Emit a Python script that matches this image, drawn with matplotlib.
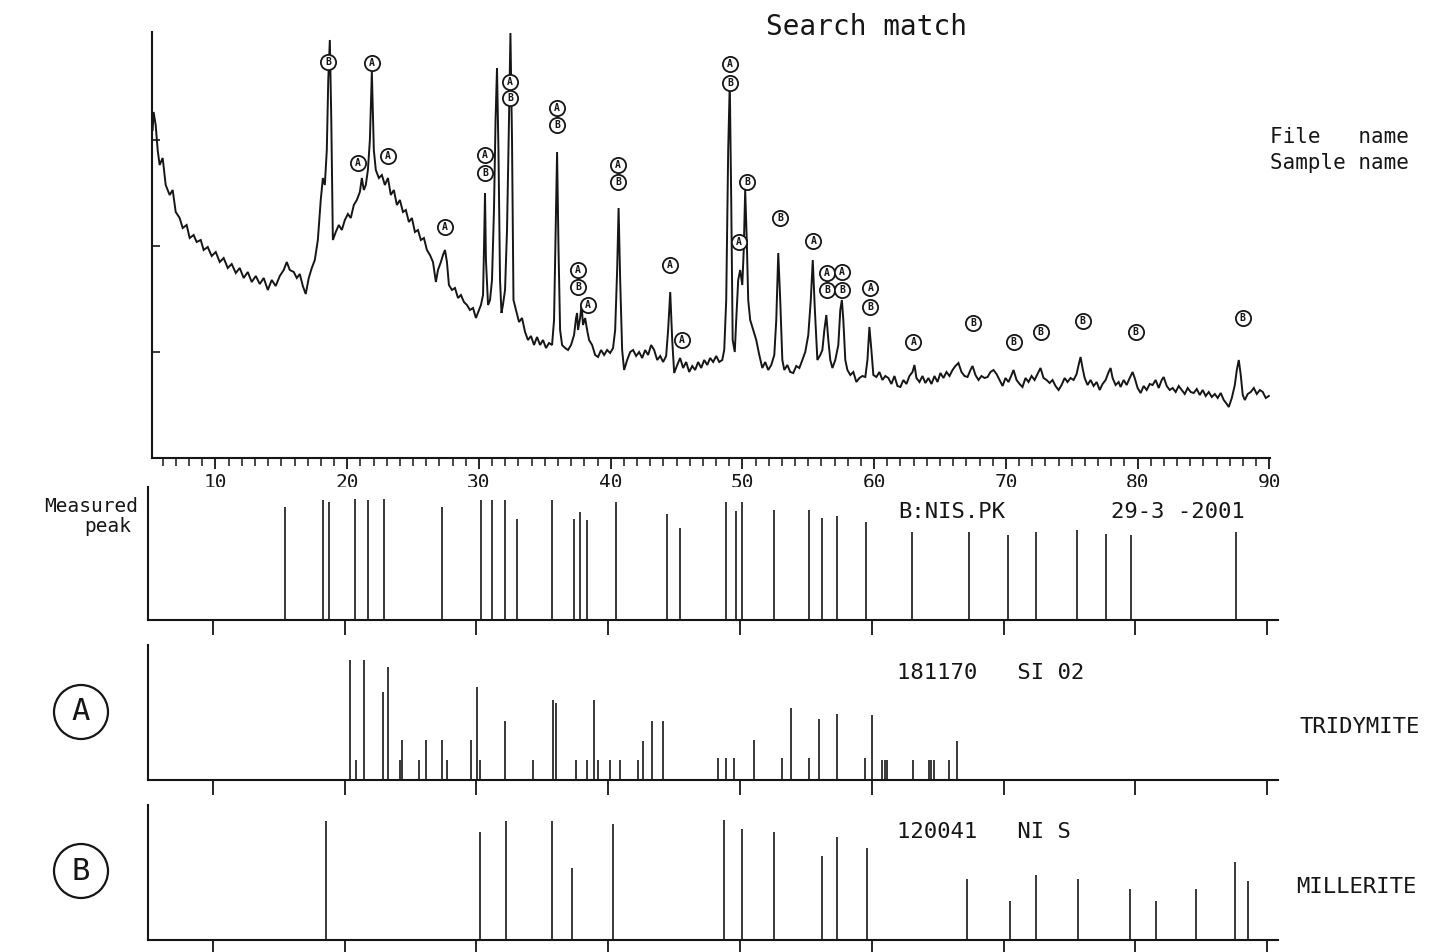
import numpy as np
import matplotlib.pyplot as plt
from matplotlib.ticker import MultipleLocator
from matplotlib.patches import Ellipse

plt.rcParams['font.family'] = ['DejaVu Sans Mono']
INK = '#161616'

# measured scan: 2-theta (deg) and counts
two_theta = [
    5.23, 5.30, 5.46, 5.61, 5.76, 5.99, 6.22, 6.52, 6.75, 6.98,
    7.28, 7.51, 7.81, 8.04, 8.34, 8.57, 8.88, 9.10, 9.41, 9.71,
    10.02, 10.32, 10.62, 10.93, 11.23, 11.54, 11.84, 12.14, 12.45, 12.75,
    13.06, 13.36, 13.66, 13.97, 14.27, 14.57, 14.88, 15.18, 15.41, 15.64,
    15.94, 16.17, 16.40, 16.63, 16.85, 17.08, 17.31, 17.54, 17.77, 17.99,
    18.15, 18.30, 18.45, 18.56, 18.68, 18.79, 18.91, 19.13, 19.36, 19.59,
    19.82, 20.05, 20.27, 20.50, 20.73, 20.96, 21.11, 21.26, 21.41, 21.57,
    21.72, 21.87, 22.02, 22.17, 22.40, 22.63, 22.86, 23.09, 23.31, 23.54,
    23.77, 24.00, 24.23, 24.45, 24.68, 24.91, 25.14, 25.37, 25.59, 25.82,
    26.05, 26.28, 26.51, 26.73, 26.89, 27.11, 27.27, 27.42, 27.57, 27.72,
    27.95, 28.18, 28.41, 28.63, 28.86, 29.09, 29.32, 29.55, 29.77, 30.00,
    30.15, 30.31, 30.38, 30.46, 30.53, 30.69, 30.84, 30.99, 31.14, 31.26,
    31.37, 31.48, 31.60, 31.71, 31.82, 31.98, 32.13, 32.28, 32.39, 32.51,
    32.62, 32.81, 33.04, 33.27, 33.50, 33.72, 33.95, 34.18, 34.41, 34.64,
    34.86, 35.09, 35.32, 35.55, 35.70, 35.81, 35.93, 36.04, 36.16, 36.31,
    36.54, 36.76, 36.99, 37.22, 37.37, 37.45, 37.52, 37.68, 37.79, 37.90,
    38.06, 38.21, 38.36, 38.59, 38.82, 39.04, 39.27, 39.50, 39.73, 39.96,
    40.18, 40.34, 40.49, 40.60, 40.72, 40.87, 41.02, 41.25, 41.48, 41.70,
    41.93, 42.16, 42.39, 42.62, 42.84, 43.07, 43.30, 43.53, 43.76, 43.98,
    44.21, 44.36, 44.52, 44.67, 44.82, 45.05, 45.27, 45.50, 45.73, 45.96,
    46.19, 46.41, 46.64, 46.87, 47.10, 47.33, 47.55, 47.78, 48.01, 48.24,
    48.47, 48.62, 48.77, 48.92, 49.04, 49.15, 49.26, 49.42, 49.53, 49.68,
    49.83, 49.99, 50.10, 50.21, 50.33, 50.44, 50.59, 50.82, 51.05, 51.28,
    51.51, 51.73, 51.96, 52.19, 52.42, 52.57, 52.72, 52.87, 53.03, 53.18,
    53.41, 53.63, 53.86, 54.09, 54.32, 54.55, 54.77, 55.00, 55.19, 55.34,
    55.50, 55.69, 55.91, 56.07, 56.22, 56.37, 56.52, 56.67, 56.83, 57.05,
    57.28, 57.43, 57.55, 57.66, 57.81, 57.97, 58.19, 58.42, 58.65, 58.88,
    59.11, 59.33, 59.49, 59.64, 59.79, 59.94, 60.17, 60.40, 60.63, 60.85,
    61.08, 61.31, 61.54, 61.77, 61.99, 62.22, 62.45, 62.68, 62.91, 63.06,
    63.21, 63.44, 63.67, 63.89, 64.12, 64.35, 64.58, 64.81, 65.03, 65.26,
    65.49, 65.72, 65.95, 66.17, 66.40, 66.63, 66.86, 67.09, 67.31, 67.47,
    67.69, 67.92, 68.15, 68.38, 68.61, 68.83, 69.06, 69.29, 69.52, 69.75,
    69.97, 70.20, 70.43, 70.58, 70.81, 71.04, 71.26, 71.49, 71.72, 71.95,
    72.18, 72.40, 72.63, 72.86, 73.09, 73.32, 73.54, 73.77, 74.00, 74.23,
    74.46, 74.68, 74.91, 75.14, 75.37, 75.52, 75.67, 75.82, 75.98, 76.20,
    76.43, 76.66, 76.89, 77.12, 77.34, 77.57, 77.80, 77.95, 78.10, 78.33,
    78.56, 78.71, 78.94, 79.17, 79.40, 79.62, 79.78, 80.00, 80.23, 80.46,
    80.69, 80.92, 81.14, 81.37, 81.60, 81.83, 81.98, 82.21, 82.44, 82.66,
    82.89, 83.12, 83.35, 83.58, 83.80, 84.03, 84.26, 84.49, 84.72, 84.94,
    85.17, 85.40, 85.63, 85.86, 86.08, 86.31, 86.54, 86.77, 86.92, 87.15,
    87.38, 87.53, 87.68, 87.83, 87.98, 88.14, 88.36, 88.59, 88.82, 89.05,
    89.28, 89.50, 89.73, 89.96,
]
counts = [
    3280, 3460, 3330, 3080, 2930, 3000, 2730, 2630, 2680, 2460,
    2400, 2300, 2330, 2200, 2230, 2160, 2180, 2080, 2110, 2020,
    2060, 1960, 2000, 1900, 1940, 1850, 1900, 1800, 1860, 1760,
    1820, 1740, 1800, 1680, 1780, 1720, 1820, 1880, 1960, 1880,
    1860, 1800, 1840, 1720, 1640, 1800, 1900, 1980, 2180, 2580,
    2800, 2730, 3080, 3780, 4180, 3380, 2180, 2260, 2330, 2280,
    2380, 2440, 2400, 2530, 2580, 2660, 2800, 2680, 2730, 2880,
    3180, 3860, 3080, 2880, 2800, 2830, 2730, 2800, 2630, 2680,
    2530, 2580, 2460, 2480, 2360, 2400, 2260, 2280, 2180, 2200,
    2080, 2030, 1960, 1760, 1880, 1960, 2030, 2080, 1960, 1730,
    1680, 1700, 1600, 1630, 1560, 1530, 1480, 1500, 1400, 1480,
    1530, 1630, 2080, 2650, 1980, 1530, 1580, 1780, 2480, 3380,
    3900, 3080, 1780, 1450, 1530, 1680, 2280, 3380, 4250, 3180,
    1580, 1480, 1360, 1400, 1260, 1180, 1220, 1130, 1210, 1130,
    1180, 1100, 1150, 1130, 1380, 2180, 3060, 2080, 1280, 1130,
    1100, 1080, 1130, 1230, 1400, 1450, 1280, 1400, 1530, 1330,
    1400, 1280, 1180, 1130, 1030, 1010, 1080, 1030, 1080, 1050,
    1100, 1280, 1880, 2500, 1780, 1080, 880, 980, 1060, 1080,
    1020, 1060, 1000, 1080, 1030, 1130, 1080, 980, 1020, 960,
    1020, 1280, 1660, 1180, 850, 930, 1000, 900, 960, 860,
    920, 880, 960, 900, 980, 930, 1000, 960, 1020, 960,
    980, 1080, 1580, 3080, 3750, 2580, 1180, 1060, 1380, 1780,
    1880, 1730, 2080, 2680, 2180, 1580, 1380, 1280, 1180, 1030,
    900, 960, 880, 930, 1030, 1380, 2050, 1580, 980, 880,
    930, 860, 850, 920, 900, 980, 1060, 1230, 1580, 1980,
    1480, 980, 1030, 1080, 1280, 1430, 1180, 980, 900, 980,
    1130, 1480, 1580, 1380, 980, 880, 830, 860, 760, 800,
    820, 810, 980, 1310, 1080, 830, 810, 860, 780, 820,
    800, 740, 820, 720, 710, 780, 740, 820, 860, 930,
    800, 760, 820, 750, 800, 740, 820, 760, 850, 800,
    860, 820, 880, 920, 950, 860, 820, 810, 880, 920,
    830, 780, 820, 800, 810, 860, 880, 840, 780, 720,
    800, 760, 830, 880, 780, 740, 710, 800, 760, 820,
    780, 840, 900, 800, 780, 750, 780, 720, 680, 730,
    800, 760, 800, 780, 840, 930, 1010, 900, 800, 730,
    780, 720, 760, 680, 740, 780, 860, 900, 800, 730,
    760, 710, 780, 730, 800, 860, 800, 700, 650, 720,
    680, 740, 730, 780, 700, 780, 810, 720, 680, 700,
    660, 720, 680, 640, 700, 660, 650, 690, 630, 680,
    620, 660, 610, 640, 600, 650, 580, 540, 510, 600,
    730, 880, 980, 830, 630, 580, 640, 660, 700, 640,
    680, 660, 600, 620,
]

# phase markers placed over the identified reflections
mark_2theta = [18.54, 21.88, 20.81, 23.09, 27.42, 30.46, 30.46, 32.36, 32.36,
               35.93, 35.93, 37.52, 37.52, 38.28, 40.56, 40.56, 44.52, 45.43,
               49.07, 49.07, 49.76, 50.37, 52.87, 55.38, 56.44, 56.44, 57.58,
               57.58, 59.71, 59.71, 62.98, 67.54, 70.58, 72.63, 75.82, 79.85,
               87.98]
mark_counts = [3960, 3950, 2950, 3020, 2310, 3030, 2850, 3760, 3600,
               3500, 3330, 1880, 1710, 1530, 2930, 2760, 1930, 1180,
               3940, 3750, 2160, 2760, 2400, 2170, 1850, 1680, 1860,
               1680, 1700, 1510, 1160, 1350, 1160, 1260, 1370, 1260,
               1400]
mark_phase = ['B', 'A', 'A', 'A', 'A', 'A', 'B', 'A', 'B',
              'A', 'B', 'A', 'B', 'A', 'A', 'B', 'A', 'A',
              'A', 'B', 'A', 'B', 'B', 'A', 'A', 'B', 'A',
              'B', 'A', 'B', 'A', 'B', 'B', 'B', 'B', 'B',
              'B']

# peak search result (relative height, %)
peak_pos = [15.49, 18.38, 18.79, 20.81, 21.75, 22.97, 27.38, 30.33, 31.20,
            32.18, 33.11, 35.72, 37.42, 37.88, 38.36, 40.59, 44.45, 45.45,
            48.90, 49.71, 50.15, 52.61, 55.22, 56.24, 57.37, 59.54, 63.02,
            67.40, 70.36, 72.47, 75.58, 77.79, 79.64, 87.62]
peak_height = [85, 90, 89, 91, 90, 91, 85, 90, 90,
               90, 76, 90, 76, 81, 75, 89, 80, 69,
               89, 82, 89, 83, 83, 77, 78, 74, 66,
               66, 64, 66, 68, 65, 64, 66]

# card 18-1170, SiO2 tridymite
trid_pos = [20.43, 20.88, 21.50, 22.90, 23.31, 24.18, 24.36, 25.64, 26.16,
            27.38, 27.73, 29.57, 30.02, 30.26, 32.18, 34.26, 35.83, 36.00,
            37.56, 38.36, 38.92, 39.20, 40.17, 40.86, 42.26, 42.60, 43.30,
            44.17, 48.36, 48.93, 49.54, 51.03, 53.21, 53.89, 55.24, 56.02,
            57.38, 59.52, 60.05, 60.77, 61.02, 61.19, 63.16, 64.33, 64.51,
            64.69, 65.83, 66.47]
trid_int = [89, 15, 89, 65, 84, 15, 30, 15, 30,
            30, 15, 30, 69, 15, 44, 15, 59, 57,
            15, 15, 59, 15, 15, 15, 15, 29, 44,
            44, 16, 16, 16, 30, 16, 53, 16, 45,
            49, 16, 48, 15, 15, 15, 15, 15, 15,
            15, 15, 29]

# card 12-0041, NiS millerite
mill_pos = [18.55, 30.26, 32.25, 35.72, 37.25, 40.34, 48.75, 50.18, 52.57,
            56.23, 57.37, 59.62, 67.21, 70.48, 72.44, 75.65, 79.60, 81.60,
            84.59, 87.58, 88.58]
mill_int = [88, 80, 88, 88, 53, 86, 89, 82, 80,
            62, 76, 68, 45, 29, 48, 45, 38, 29,
            38, 58, 44]

W, H = 1444, 952
fig = plt.figure(figsize=(W / 100, H / 100), dpi=100)


def px_axes(x0, y0, x1, y1):
    return fig.add_axes([x0 / W, 1 - y1 / H, (x1 - x0) / W, (y1 - y0) / H])


def ftext(x, y, s, **kw):
    kw.setdefault('va', 'center')
    kw.setdefault('color', INK)
    return fig.text(x / W, 1 - y / H, s, **kw)


# --- diffractogram
ax = px_axes(152, 32, 1270, 458)
ax.plot(two_theta, counts, color=INK, lw=1.4, solid_joinstyle='miter')
ax.set_xlim(5.18, 90.05)
ax.set_ylim(0, 4260)
for s in ('top', 'right'):
    ax.spines[s].set_visible(False)
for s in ('left', 'bottom'):
    ax.spines[s].set_linewidth(1.5)
    ax.spines[s].set_color(INK)
ax.xaxis.set_major_locator(MultipleLocator(10))
ax.xaxis.set_minor_locator(MultipleLocator(1))
ax.tick_params(axis='x', which='major', direction='out', length=8, width=1.3,
               labelsize=14, pad=3, colors=INK)
ax.tick_params(axis='x', which='minor', direction='out', length=6, width=1.1,
               colors=INK)
ax.set_yticks([1060, 2120, 3180])
ax.tick_params(axis='y', direction='in', length=6, width=1.2, labelleft=False,
               colors=INK)

ax.scatter(mark_2theta, mark_counts, s=120, facecolors='white',
           edgecolors=INK, linewidths=1.3, zorder=3)
for x, y, p in zip(mark_2theta, mark_counts, mark_phase):
    ax.text(x, y, p, ha='center', va='center', fontsize=7, fontweight='bold',
            color=INK, zorder=4)

ftext(866, 27, 'Search match', ha='center', fontsize=20)
ftext(1270, 137, 'File   name', ha='left', fontsize=15)
ftext(1270, 163, 'Sample name', ha='left', fontsize=15)


# --- stick panels
def stick_panel(y0, y1, pos, hgt):
    a = px_axes(148, y0, 1278, y1)
    a.vlines(pos, 0, hgt, color=INK, lw=1.2)
    a.set_xlim(5.07, 90.83)
    a.set_ylim(0, 100)
    for s in ('top', 'right'):
        a.spines[s].set_visible(False)
    for s in ('left', 'bottom'):
        a.spines[s].set_linewidth(1.5)
        a.spines[s].set_color(INK)
    a.set_xticks(np.arange(10, 91, 10))
    a.set_yticks([])
    a.tick_params(axis='x', direction='out', length=11, width=1.3,
                  labelbottom=False, colors=INK)
    return a


stick_panel(487, 620, peak_pos, peak_height)
ftext(138, 507, 'Measured', ha='right', fontsize=14)
ftext(131, 527, 'peak', ha='right', fontsize=14)
ftext(898, 512, 'B:NIS.PK', ha='left', fontsize=16)
ftext(1111, 512, '29-3 -2001', ha='left', fontsize=16)

stick_panel(645, 780, trid_pos, trid_int)
ftext(897, 673, '181170   SI 02', ha='left', fontsize=16)
ftext(1299, 727, 'TRIDYMITE', ha='left', fontsize=16)

stick_panel(805, 940, mill_pos, mill_int)
ftext(897, 832, '120041   NI S', ha='left', fontsize=16)
ftext(1296, 887, 'MILLERITE', ha='left', fontsize=16)

# phase keys
for cy, letter in ((712, 'A'), (871, 'B')):
    fig.add_artist(Ellipse((81 / W, 1 - cy / H), 54 / W, 54 / H,
                           transform=fig.transFigure, fill=False,
                           lw=1.6, edgecolor=INK))
    ftext(81, cy, letter, ha='center', fontsize=22)

fig.savefig('out.png', dpi=100)
